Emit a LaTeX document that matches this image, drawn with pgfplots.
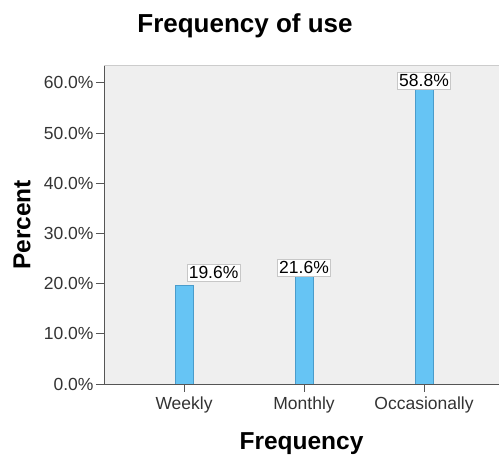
\documentclass[border=0pt]{standalone}
\usepackage{fontspec}
\setmainfont{Liberation Sans}
\usepackage{pgfplots}
\pgfplotsset{compat=1.18}

\definecolor{barfill}{HTML}{66C4F4}
\definecolor{baredge}{HTML}{4A9CCB}
\definecolor{plotbg}{HTML}{EFEFEF}
\definecolor{axisline}{HTML}{555555}

\begin{document}
\begin{tikzpicture}
\path[use as bounding box] (0,0) rectangle (499pt,460pt);
\begin{axis}[
  at={(104pt,76pt)}, anchor=origin,
  scale only axis,
  width=395pt, height=318pt,
  xmin=0.333, xmax=3.625,
  ymin=0, ymax=63.35,
  axis background/.style={fill=plotbg},
  axis x line*=bottom, axis y line*=left,
  axis line style={axisline, line width=0.9pt},
  ybar, bar width=18pt, bar shift=0pt,
  xtick={1,2,3},
  xticklabels={Weekly,Monthly,Occasionally},
  ytick={0,10,20,30,40,50,60},
  yticklabel={\pgfmathprintnumber[fixed,fixed zerofill,precision=1]{\tick}\%},
  /pgf/number format/assume math mode=true,
  tick align=outside,
  major tick length=8pt,
  tick style={axisline, line width=0.9pt},
  ticklabel style={font=\fontsize{17.5}{20}\selectfont, text=black!80},
  yticklabel style={xshift=1pt},
  xticklabel style={yshift=-1pt},
  title={\textbf{Frequency of use}},
  title style={at={(axis description cs:0.357,1)}, anchor=base, yshift=27pt,
    font=\fontsize{26}{30}\selectfont},
  xlabel={\textbf{Frequency}},
  xlabel style={at={(axis description cs:0.5,0)}, anchor=center, yshift=-60pt,
    font=\fontsize{24.5}{28}\selectfont},
  ylabel={\textbf{Percent}},
  ylabel style={at={(axis description cs:-0.2076,0.5)}, anchor=center,
    font=\fontsize{24.5}{28}\selectfont},
  every node near coord/.append style={
    font=\fontsize{17.5}{20}\selectfont, fill=white, draw=black!22,
    inner xsep=1.5pt, inner ysep=2.5pt, line width=0.5pt},
  nodes near coords={\pgfmathprintnumber[fixed,fixed zerofill,precision=1]{\pgfplotspointmeta}\%},
]
\draw[black!20, line width=1pt] (rel axis cs:0,1) -- (rel axis cs:1,1);
% Weekly: label pushed to the right of its bar
\addplot[fill=barfill, draw=baredge, line width=0.6pt,
  every node near coord/.append style={anchor=south west, xshift=3pt, yshift=4pt}]
  coordinates {(1,19.6)};
\addplot[fill=barfill, draw=baredge, line width=0.6pt,
  every node near coord/.append style={anchor=south, yshift=-1pt}]
  coordinates {(2,21.6) (3,58.8)};
\end{axis}
\end{tikzpicture}
\end{document}
